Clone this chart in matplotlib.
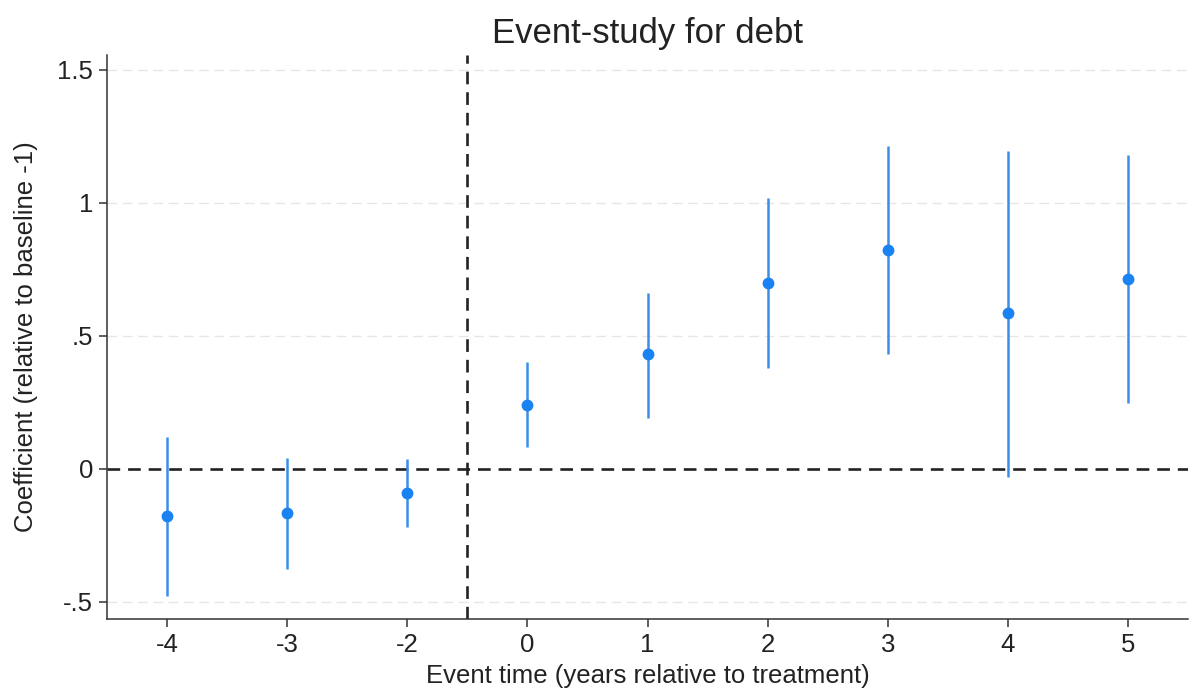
import matplotlib
matplotlib.use("Agg")
import matplotlib.pyplot as plt
import numpy as np

plt.rcParams['font.family'] = ['Liberation Sans', 'DejaVu Sans']

event_labels = ["-4", "-3", "-2", "0", "1", "2", "3", "4", "5"]
coef = [-0.177, -0.165, -0.090, 0.240, 0.430, 0.700, 0.823, 0.586, 0.714]
ci_low = [-0.480, -0.376, -0.220, 0.083, 0.190, 0.380, 0.432, -0.030, 0.248]
ci_high = [0.120, 0.040, 0.038, 0.400, 0.660, 1.020, 1.214, 1.195, 1.180]
y_ticks = [-0.5, 0, 0.5, 1, 1.5]
y_ticklabels = ["-.5", "0", ".5", "1", "1.5"]

fig = plt.figure(figsize=(11.92, 6.94), dpi=100)
ax = fig.add_axes([107/1192, 1-619/694, (1188-107)/1192, (619-55)/694])

x = np.arange(len(event_labels))

# gridlines
for yv in y_ticks:
    if yv != 0:
        ax.axhline(yv, color="#e6e6e6", lw=1.0, linestyle=(0, (7, 4)), zorder=0)

ax.axhline(0, color="#222222", lw=1.9, linestyle=(0, (4.8, 3.0)), zorder=1)
ax.axvline(2.5, color="#222222", lw=1.9, linestyle=(0, (4.8, 3.0)), zorder=1)

ax.vlines(x, ci_low, ci_high, color="#3a8ee6", lw=1.8, zorder=2)
ax.plot(x, coef, "o", color="#1a82f2", markersize=7.5, zorder=3)

ax.set_xlim(-0.5, 8.5)
ax.set_ylim(-0.565, 1.556)
ax.set_xticks(x)
ax.set_xticklabels(event_labels)
ax.set_yticks(y_ticks)
ax.set_yticklabels(y_ticklabels)

for s in ["top", "right"]:
    ax.spines[s].set_visible(False)
for s in ["left", "bottom"]:
    ax.spines[s].set_color("#333333")
    ax.spines[s].set_linewidth(1.1)

ax.tick_params(axis="both", direction="out", length=6, width=1.1, color="#333333",
               labelsize=18.5, labelcolor="#222222", pad=4)

ax.set_xlabel("Event time (years relative to treatment)", fontsize=18.5, color="#222222", labelpad=5)
ax.set_ylabel("Coefficient (relative to baseline -1)", fontsize=18.5, color="#222222", labelpad=14)
ax.set_title("Event-study for debt", fontsize=25, color="#222222", pad=9)

fig.savefig("out.png", dpi=100)
